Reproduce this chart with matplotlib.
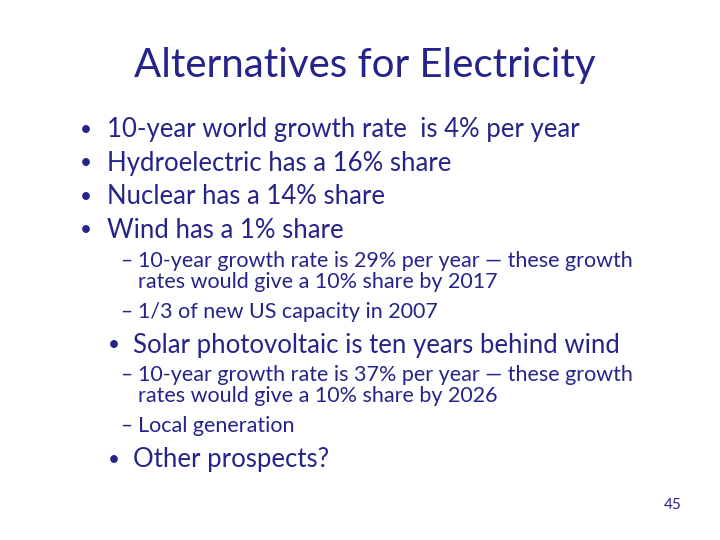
import matplotlib
matplotlib.use("Agg")
import matplotlib.pyplot as plt

title = "Alternatives for Electricity"
main_bullets = ["10-year world growth rate  is 4% per year",
                "Hydroelectric has a 16% share",
                "Nuclear has a 14% share",
                "Wind has a 1% share"]
wind_sub = ["10-year growth rate is 29% per year — these growth\nrates would give a 10% share by 2017",
            "1/3 of new US capacity in 2007"]
solar = "Solar photovoltaic is ten years behind wind"
solar_sub = ["10-year growth rate is 37% per year — these growth\nrates would give a 10% share by 2026",
             "Local generation"]
other = "Other prospects?"
page = "45"

C = "#24248a"
plt.rcParams['font.family'] = ['Lato', 'DejaVu Sans']
fig = plt.figure(figsize=(7.2, 5.4), dpi=100)
ax = fig.add_axes([0, 0, 1, 1])
ax.set_xlim(0, 720); ax.set_ylim(540, 0); ax.axis('off')

ax.text(365, 65, title, fontsize=29, color=C, ha='center', va='center')
for y, t in zip([130, 163, 197, 230], main_bullets):
    ax.text(80, y, "•", fontsize=15, color=C, ha='left', va='center')
    ax.text(107, y, t, fontsize=18.5, color=C, ha='left', va='center')

def sub(y0, items):
    ys = [y0, y0 + 51]
    for y, t in zip(ys, items):
        ax.text(120, y, "–", fontsize=15, color=C, ha='left', va='top')
        ax.text(138, y, t, fontsize=15.5, color=C, ha='left', va='top', linespacing=1.05)

sub(251, wind_sub)
ax.text(108, 345, "•", fontsize=15, color=C, ha='left', va='center')
ax.text(133, 345, solar, fontsize=18.5, color=C, ha='left', va='center')
sub(365, solar_sub)
ax.text(108, 460, "•", fontsize=15, color=C, ha='left', va='center')
ax.text(133, 460, other, fontsize=18.5, color=C, ha='left', va='center')
ax.text(682, 505, page, fontsize=11, color=C, ha='right', va='center')
fig.savefig("out.png", dpi=100)
